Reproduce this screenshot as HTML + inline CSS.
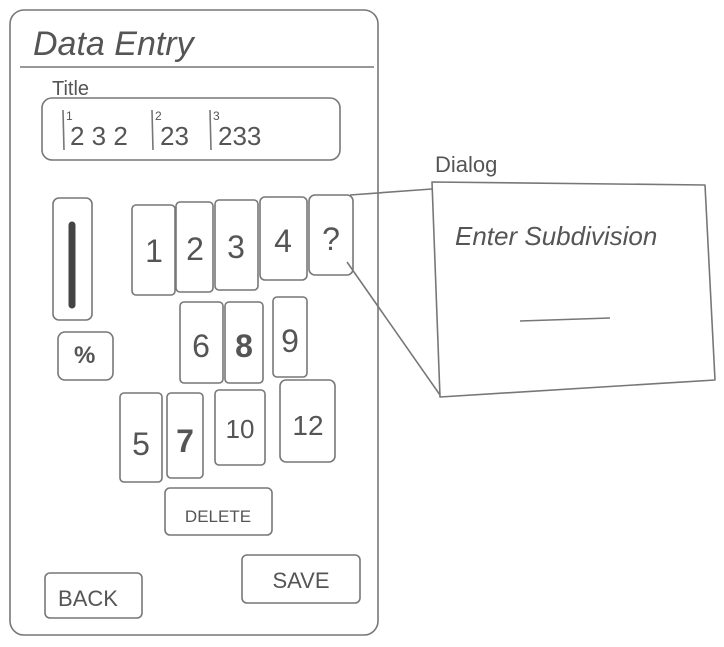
<!DOCTYPE html>
<html><head><meta charset="utf-8"><style>
html,body{margin:0;padding:0;background:#fff;width:724px;height:647px;overflow:hidden}
svg{display:block}
text{font-family:"Liberation Sans",sans-serif;fill:#555}
</style></head><body>
<svg width="724" height="647" viewBox="0 0 724 647" xmlns="http://www.w3.org/2000/svg">
<g fill="none" stroke="#777" stroke-width="1.6" stroke-linejoin="round">
<rect x="10" y="10" width="368" height="625" rx="14"/>
<line x1="20" y1="67" x2="374" y2="67"/>
<rect x="42" y="98" width="298" height="62" rx="10"/>
<rect x="53" y="198" width="39" height="122" rx="6"/>
<rect x="58" y="332" width="55" height="48" rx="7"/>
<rect x="132" y="205" width="43" height="90" rx="4"/>
<rect x="176" y="202" width="37" height="90" rx="4"/>
<rect x="215" y="200" width="43" height="90" rx="4"/>
<rect x="260" y="197" width="47" height="83" rx="5"/>
<rect x="309" y="195" width="44" height="80" rx="6"/>
<rect x="180" y="302" width="43" height="81" rx="4"/>
<rect x="225" y="302" width="38" height="81" rx="4"/>
<rect x="273" y="297" width="34" height="80" rx="4"/>
<rect x="120" y="393" width="42" height="89" rx="4"/>
<rect x="167" y="393" width="36" height="85" rx="4"/>
<rect x="215" y="390" width="50" height="75" rx="4"/>
<rect x="280" y="380" width="55" height="82" rx="6"/>
<rect x="165" y="488" width="107" height="47" rx="5"/>
<rect x="45" y="573" width="97" height="45" rx="5"/>
<rect x="242" y="555" width="118" height="48" rx="5"/>
<polygon points="432,182 705,185 715,380 440,397"/>
<line x1="350" y1="195" x2="432" y2="189"/>
<line x1="347" y1="262" x2="440" y2="395"/>
<line x1="520" y1="321" x2="610" y2="318"/>
<line x1="63" y1="110" x2="64" y2="150"/>
<line x1="152" y1="110" x2="153" y2="150"/>
<line x1="210" y1="110" x2="211" y2="150"/>
</g>
<line x1="72" y1="225" x2="72" y2="305" stroke="#444" stroke-width="7" stroke-linecap="round"/>
<text x="33" y="55" font-size="34" font-style="italic">Data Entry</text>
<text x="52" y="95" font-size="20">Title</text>
<text x="70" y="145" font-size="26">2 3 2</text>
<text x="160" y="145" font-size="26">23</text>
<text x="218" y="145" font-size="26">233</text>
<text x="66" y="120" font-size="12">1</text>
<text x="155" y="120" font-size="12">2</text>
<text x="213" y="120" font-size="12">3</text>
<text x="74" y="363" font-size="24" font-weight="bold">%</text>
<g font-size="32" text-anchor="middle">
<text x="154" y="262">1</text><text x="195" y="260">2</text><text x="236" y="258">3</text><text x="283" y="252">4</text><text x="331" y="250">?</text>
<text x="201" y="357">6</text><text x="244" y="357" font-weight="bold">8</text><text x="290" y="352">9</text>
<text x="141" y="455">5</text><text x="185" y="452" font-weight="bold">7</text><text x="240" y="438" font-size="26">10</text><text x="308" y="435" font-size="28">12</text>
</g>
<text x="218" y="522" font-size="17" text-anchor="middle">DELETE</text>
<text x="88" y="606" font-size="22" text-anchor="middle">BACK</text>
<text x="301" y="588" font-size="22" text-anchor="middle">SAVE</text>
<text x="435" y="172" font-size="22">Dialog</text>
<text x="455" y="245" font-size="26" font-style="italic">Enter Subdivision</text>
</svg>
</body></html>
